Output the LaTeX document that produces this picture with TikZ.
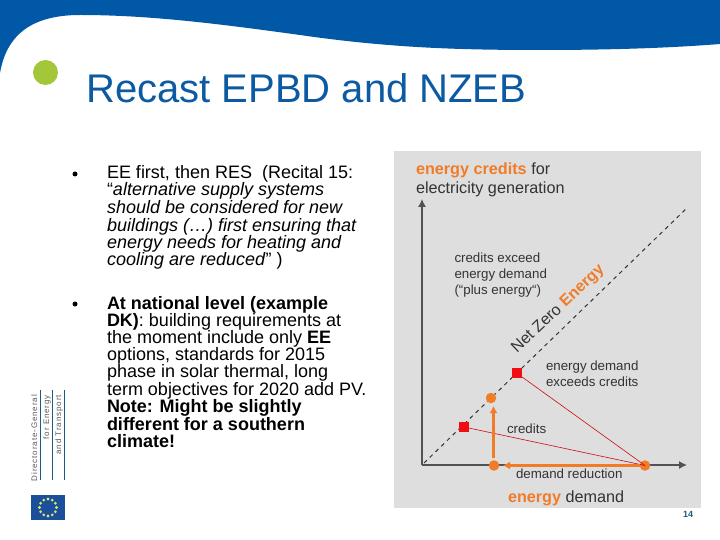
\documentclass[tikz,border=0pt]{standalone}
\usepackage{fontspec}
\setmainfont{Liberation Sans}
\usetikzlibrary{arrows.meta}
\definecolor{eublue}{HTML}{0058A6}
\definecolor{titleblue}{HTML}{0B5AA2}
\definecolor{leaf}{HTML}{A4C639}
\definecolor{panel}{HTML}{DEDEDE}
\definecolor{accent}{HTML}{F07C28}
\definecolor{redsq}{HTML}{F00D14}
\definecolor{dk}{HTML}{333338}
\definecolor{flagblue}{HTML}{1B4F9C}
\definecolor{flagstar}{HTML}{D8E46A}
\definecolor{pagenum}{HTML}{1F5A80}
\newcommand{\fsz}[1]{\fontsize{#1}{#1}\selectfont}
\tikzset{
 x=1pt,y=-1pt,
 bodytext/.style={anchor=base west,inner sep=0pt,outer sep=0pt,font=\fsz{18},text=black},
 chart/.style={anchor=base west,inner sep=0pt,outer sep=0pt,font=\fsz{13.3},text=dk},
 charthead/.style={anchor=base west,inner sep=0pt,outer sep=0pt,font=\fsz{16.2},text=dk},
 axisline/.style={draw=dk!85,line width=1.2pt,-{Latex[length=8pt,width=8pt]}},
 orangearrow/.style={draw=accent,line width=2.2pt,-{Latex[length=7pt,width=8pt]}},
 redline/.style={draw=redsq!85!black,line width=0.6pt},
 redsquare/.style={fill=redsq,minimum size=10pt,inner sep=0pt,draw=none},
 orangedot/.style={fill=accent,circle,minimum size=10.5pt,inner sep=0pt,draw=none},
 dgtext/.style={rotate=90,anchor=base east,inner sep=0pt,font=\fsz{8}\addfontfeature{LetterSpace=11},text=black!65},
 dgline/.style={draw=pagenum,line width=0.7pt},
 bulletmark/.style={fill=black,circle,minimum size=5pt,inner sep=0pt,draw=none},
}
\begin{document}
\begin{tikzpicture}
\useasboundingbox (0,0) rectangle (720,540);
\fill[white] (0,0) rectangle (720,540);
% header
\fill[eublue] (0,0) -- (0,73) .. controls (6,38) and (28,15) .. (80,15)
  .. controls (150,15) and (220,24) .. (300,35)
  .. controls (390,48) and (460,50) .. (540,50)
  .. controls (610,50) and (670,48) .. (720,44) -- (720,0) -- cycle;
\node[fill=leaf,circle,minimum size=25pt,inner sep=0pt] (leafdot) at (45.5,72.5) {};
\node[anchor=base west,inner sep=0pt,font=\fsz{40},text=titleblue] (title) at (86,103) {Recast EPBD and NZEB};
% text
\node[bulletmark] (b1) at (75,174) {};
\node[bodytext] (t1) at (107,179) {EE first, then RES\ \ (Recital 15:};
\node[bodytext] (t2) at (107,196) {“\textit{alternative supply systems}};
\node[bodytext] (t3) at (107,214) {\textit{should be considered for new}};
\node[bodytext] (t4) at (107,231) {\textit{buildings (…) first ensuring that}};
\node[bodytext] (t5) at (107,248) {\textit{energy needs for heating and}};
\node[bodytext] (t6) at (107,265) {\textit{cooling are reduced}” )};
\node[bulletmark] (b2) at (75,304) {};
\node[bodytext] (u1) at (107,309) {\textbf{At national level (example}};
\node[bodytext] (u2) at (107,326) {\textbf{DK)}: building requirements at};
\node[bodytext] (u3) at (107,343) {the moment include only \textbf{EE}};
\node[bodytext] (u4) at (107,360) {options, standards for 2015};
\node[bodytext] (u5) at (107,377) {phase in solar thermal, long};
\node[bodytext] (u6) at (107,395) {term objectives for 2020 add PV.};
\node[bodytext] (u7) at (107,412) {\textbf{Note: Might be slightly}};
\node[bodytext] (u8) at (107,430) {\textbf{different for a southern}};
\node[bodytext] (u9) at (107,447) {\textbf{climate!}};
% panel
\fill[panel] (394,151) rectangle (701,508);
\node[charthead] (h1) at (416,174.5) {\textbf{\textcolor{accent}{energy credits}} for};
\node[charthead] (h2) at (416,193.5) {electricity generation};
\coordinate (orig) at (422,465);
\coordinate (ytop) at (422,199);
\coordinate (xend) at (687,465);
\coordinate (dstart) at (424,463);
\coordinate (dend) at (688,207);
\draw[axisline] (orig) -- (ytop);
\draw[axisline] (orig) -- (xend);
\draw[dk,line width=1pt,dash pattern=on 4pt off 4pt] (dstart) -- (dend);
\node[chart] (c1) at (454.5,262) {credits exceed};
\node[chart] (c2) at (454.5,278) {energy demand};
\node[chart] (c3) at (454.5,294) {(“plus energy“)};
\node[anchor=base west,inner sep=0pt,font=\fsz{16},text=dk,rotate=43.5] (nz) at (517,354) {Net Zero \textbf{\textcolor{accent}{Energy}}};
\node[chart] (d1) at (546,370) {energy demand};
\node[chart] (d2) at (546,386) {exceeds credits};
\node[chart] (cr) at (507,433) {credits};
\node[chart] (dr) at (516,478) {demand reduction};
\node[charthead] (ed) at (508,502) {\textbf{\textcolor{accent}{energy}} demand};
% markers
\node[redsquare] (s1) at (516.5,373) {};
\node[redsquare] (s2) at (464,427) {};
\node[orangedot] (o1) at (491,398) {};
\node[orangedot] (o2) at (494,465.5) {};
\node[orangedot] (o3) at (645,465.5) {};
\draw[redline] (s1) -- (o3.center);
\draw[redline] (s2) -- (o3.center);
\coordinate (vbase) at (493.5,458);
\coordinate (vtip) at (493.5,406);
\coordinate (htip) at (503,465.5);
\draw[orangearrow] (vbase) -- (vtip);
\draw[orangearrow] (o3) -- (htip);
\node[anchor=base,inner sep=0pt,font=\bfseries\fsz{9},text=pagenum] (pg) at (688,517) {14};
% DG block
\node[dgtext] (dg1) at (37,395) {Directorate-General};
\node[dgtext] (dg2) at (49,395) {for Energy};
\node[dgtext] (dg3) at (61,395) {and Transport};
\coordinate (l1a) at (40.7,390); \coordinate (l1b) at (40.7,480);
\coordinate (l2a) at (52.3,390); \coordinate (l2b) at (52.3,480);
\coordinate (l3a) at (64.3,390); \coordinate (l3b) at (64.3,480);
\draw[dgline] (l1a) -- (l1b);
\draw[dgline] (l2a) -- (l2b);
\draw[dgline] (l3a) -- (l3b);
% flag
\fill[flagblue] (31,495) rectangle (65,520);
\foreach \a in {0,30,...,330}{
  \fill[flagstar] ({48+8.5*cos(\a)},{507.5+8.5*sin(\a)}) circle (1.6pt);
}
\end{tikzpicture}
\end{document}
